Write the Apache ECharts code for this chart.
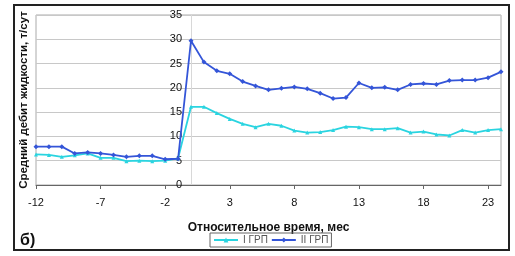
<!DOCTYPE html>
<html><head><meta charset="utf-8">
<script src="https://cdn.jsdelivr.net/npm/echarts@6/dist/echarts.min.js"></script>
<style>html,body{margin:0;padding:0;background:#fff}#c{width:515px;height:256px}</style>
</head><body><div id="c"></div>
<script>
const months = [-12,-11,-10,-9,-8,-7,-6,-5,-4,-3,-2,-1,0,1,2,3,4,5,6,7,8,9,10,11,12,13,14,15,16,17,18,19,20,21,22,23,24];
const grp1 = [6.3,6.2,5.8,6.1,6.5,5.6,5.6,4.9,5.0,4.9,5.0,5.5,16.1,16.1,14.8,13.6,12.6,11.9,12.6,12.2,11.2,10.8,10.9,11.3,12.0,11.9,11.5,11.5,11.7,10.8,11.0,10.4,10.2,11.3,10.8,11.3,11.5];
const grp2 = [7.9,7.9,7.9,6.5,6.7,6.5,6.2,5.8,6.0,6.0,5.3,5.4,29.7,25.3,23.5,22.9,21.3,20.4,19.6,19.9,20.2,19.8,18.9,17.8,18.0,21.0,20.0,20.1,19.6,20.7,20.9,20.7,21.5,21.6,21.6,22.1,23.3];
const xTicks = [-12,-7,-2,3,8,13,18,23];
const seriesNames = ['I ГРП','II ГРП'];

const chart = echarts.init(document.getElementById('c'), null, {renderer:'canvas'});
const font = 'Arial, "Liberation Sans", sans-serif';
const gridLeft = 36, gridRight = 14, xMin = -12, xMax = 24;
const plotW = 515 - gridLeft - gridRight;
const zeroOffset = (0 - xMin) / (xMax - xMin) * plotW;
chart.setOption({
  animation:false,
  backgroundColor:'#fff',
  grid:{left:gridLeft,right:gridRight,top:15,bottom:71,show:true,borderColor:'#aaa',borderWidth:1},
  xAxis:{type:'value',min:xMin,max:xMax,
    axisLine:{onZero:false,lineStyle:{color:'#666',width:1}},
    axisTick:{customValues:xTicks,length:4,lineStyle:{color:'#666'}},
    axisLabel:{customValues:xTicks,color:'#111',fontFamily:font,fontSize:11,margin:12},
    splitLine:{show:false},
    name:'Относительное время, мес',nameLocation:'middle',nameGap:37,
    nameTextStyle:{fontFamily:font,fontWeight:'bold',fontSize:12,color:'#111'}},
  yAxis:{type:'value',min:0,max:35,interval:5,position:'left',offset:-zeroOffset,
    axisLine:{show:true,onZero:false,lineStyle:{color:'#d8d8d8',width:1}},
    axisTick:{show:false},
    axisLabel:{color:'#111',fontFamily:font,fontSize:11,margin:9},
    splitLine:{lineStyle:{color:'#c8c8c8',width:1}}},
  legend:{left:210,top:233,data:seriesNames,itemWidth:24,itemHeight:6,itemGap:3,
    borderColor:'#666',borderWidth:1,padding:[2,3],
    textStyle:{fontFamily:font,fontSize:10,color:'#555'}},
  series:[
    {name:seriesNames[0],type:'line',data:months.map((m,i)=>[m,grp1[i]]),
     color:'#2ad4e0',lineStyle:{width:1.8},symbol:'triangle',symbolSize:4},
    {name:seriesNames[1],type:'line',data:months.map((m,i)=>[m,grp2[i]]),
     color:'#3455d8',lineStyle:{width:1.8},symbol:'diamond',symbolSize:5}
  ],
  graphic:[
    {type:'rect',shape:{x:14,y:5,width:495,height:245},style:{fill:'none',stroke:'#222',lineWidth:2},z:-1},
    {type:'text',x:24,y:100,rotation:Math.PI/2,style:{text:'Средний дебит жидкости, т/сут',font:'bold 11.5px '+font,fill:'#111',textAlign:'center',textVerticalAlign:'middle'}},
    {type:'text',x:20,y:241,style:{text:'б)',font:'bold 16px '+font,fill:'#111',textVerticalAlign:'middle'}}
  ]
});
</script></body></html>
